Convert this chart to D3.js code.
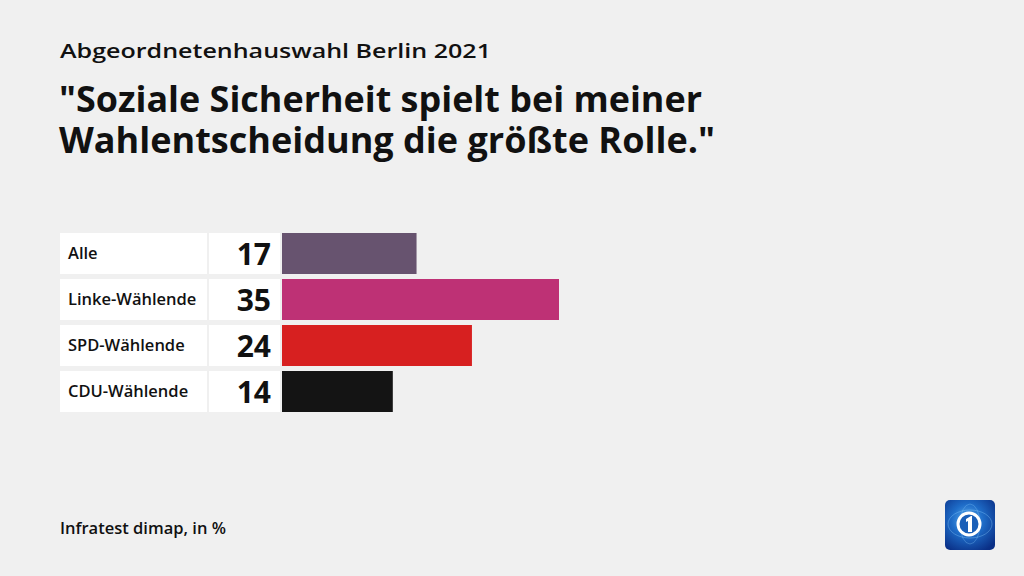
<!DOCTYPE html>
<html><head><meta charset="utf-8">
<script src="https://cdn.jsdelivr.net/npm/d3@7"></script>
<style>html,body{margin:0;padding:0;background:#f0f0f0;}svg{display:block;}</style>
</head><body>
<svg id="c" width="1024" height="576"></svg>
<script>
const categories = ["Alle","Linke-Wählende","SPD-Wählende","CDU-Wählende"];
const values = [17,35,24,14];
const colors = ["#67536f","#be3175","#d72020","#141414"];
const supertitle = "Abgeordnetenhauswahl Berlin 2021";
const titleLines = ["\"Soziale Sicherheit spielt bei meiner","Wahlentscheidung die größte Rolle.\""];
const source = "Infratest dimap, in %";

const svg = d3.select("#c");
const font = "'Open Sans', sans-serif";
svg.append("rect").attr("width",1024).attr("height",576).attr("fill","#f0f0f0");

function fit(sel, w){ sel.attr("textLength", w).attr("lengthAdjust","spacingAndGlyphs"); }

fit(svg.append("text").attr("x",60).attr("y",58).attr("font-family",font).attr("font-weight",600)
  .attr("font-size",20).attr("fill","#111").text(supertitle), 431);
const tw=[643,656];
const title = svg.append("text").attr("font-family",font).attr("font-weight",700)
    .attr("font-size",36).attr("fill","#111");
titleLines.forEach((t,i)=>{
  fit(title.append("tspan").attr("x",59).attr("y",112+i*41).text(t), tw[i]);
});

const y = d3.scaleBand().domain(categories).range([233,412]).paddingInner(5/46).paddingOuter(0);
const x = d3.scaleLinear().domain([0,35]).range([282,559]);

const g = svg.append("g");
const rows = g.selectAll("g.row").data(categories.map((c,i)=>({c,v:values[i],col:colors[i]}))).join("g");
rows.append("rect").attr("x",60).attr("y",d=>y(d.c)).attr("width",147).attr("height",y.bandwidth()).attr("fill","#fff");
rows.append("rect").attr("x",209).attr("y",d=>y(d.c)).attr("width",71).attr("height",y.bandwidth()).attr("fill","#fff");
rows.append("rect").attr("x",x(0)).attr("y",d=>y(d.c)).attr("width",d=>x(d.v)-x(0)).attr("height",y.bandwidth()).attr("fill",d=>d.col);
rows.append("text").attr("x",68).attr("y",d=>y(d.c)+y.bandwidth()/2+5.5).attr("font-family",font).attr("font-weight",600)
  .attr("font-size",16.5).attr("fill","#111").text(d=>d.c);
rows.append("text").attr("x",271).attr("y",d=>y(d.c)+y.bandwidth()/2+11.5).attr("text-anchor","end").attr("font-family",font).attr("font-weight",700)
  .attr("font-size",30).attr("fill","#111").text(d=>d.v);

svg.append("text").attr("x",60).attr("y",534).attr("font-family",font).attr("font-weight",600)
  .attr("font-size",16.5).attr("fill","#111").text(source);

// logo
const defs = svg.append("defs");
const rg = defs.append("radialGradient").attr("id","lg").attr("cx","45%").attr("cy","40%").attr("r","70%");
rg.append("stop").attr("offset","0%").attr("stop-color","#5fb0f0");
rg.append("stop").attr("offset","45%").attr("stop-color","#1e6cc8");
rg.append("stop").attr("offset","100%").attr("stop-color","#0a2f86");
const L = svg.append("g").attr("transform","translate(945,500)");
L.append("rect").attr("width",50).attr("height",50).attr("rx",5).attr("fill","url(#lg)");
L.append("ellipse").attr("cx",25).attr("cy",24).attr("rx",22).attr("ry",14).attr("fill","none").attr("stroke","#8fd0ff").attr("stroke-opacity",0.35).attr("stroke-width",1);
L.append("ellipse").attr("cx",25).attr("cy",24).attr("rx",10).attr("ry",20).attr("fill","none").attr("stroke","#8fd0ff").attr("stroke-opacity",0.3).attr("stroke-width",1);
L.append("circle").attr("cx",24).attr("cy",24).attr("r",11).attr("fill","#1a5fb8").attr("stroke","#fff").attr("stroke-width",3);
L.append("path").attr("d","M21 19 L26 16 L27 16 L27 32 L23 32 L23 21 L21 22 Z").attr("fill","#fff");
</script>
</body></html>
